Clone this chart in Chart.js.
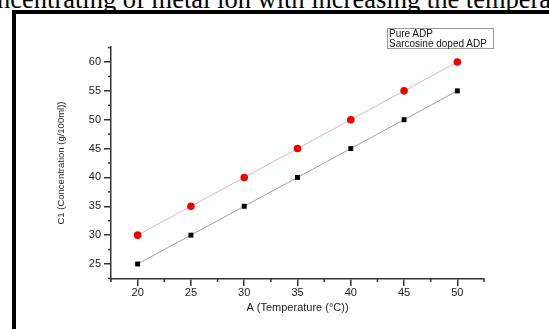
<!DOCTYPE html>
<html>
<head>
<meta charset="utf-8">
<script src="https://cdn.jsdelivr.net/npm/chart.js@4.4.1/dist/chart.umd.min.js"></script>
<style>
  html, body { margin: 0; padding: 0; background: #fff; }
  body { width: 549px; height: 329px; position: relative; overflow: hidden; }
  #doctext { position: absolute; left: -28px; top: -14px; white-space: nowrap;
    font: 26.5px/26.5px "Liberation Serif", serif; color: #000; }
  #frame { position: absolute; left: 12px; top: 10px; width: 600px; height: 400px;
    border: 4px solid #000; box-sizing: border-box; }
  #wrap { position: absolute; left: 0; top: 0; width: 549px; height: 329px; }
  #legend { position: absolute; left: 387px; top: 28px; width: 104px; height: 19px;
    border: 1px solid #999; font: 10px/10px "Liberation Sans", Arial, sans-serif;
    color: #111; padding: 0 0 0 1px; }
</style>
</head>
<body>
<div id="doctext">concentrating of metal ion with increasing the temperature</div>
<div id="frame"></div>
<div id="wrap"><canvas id="c" width="549" height="329"></canvas></div>
<div id="legend"></div>
<script>
const temps = [20, 25, 30, 35, 40, 45, 50];
const pureADP = [25, 30, 35, 40, 45, 50, 55];
const sarcosineADP = [30, 35, 40, 45, 50, 55, 60];
const seriesNames = ['Pure ADP', 'Sarcosine doped ADP'];

const xTicks = [20, 25, 30, 35, 40, 45, 50];
const xMinor = [17.5, 22.5, 27.5, 32.5, 37.5, 42.5, 47.5, 52.5];
const yTicks = [25, 30, 35, 40, 45, 50, 55, 60];
const yMinor = [22.5, 27.5, 32.5, 37.5, 42.5, 47.5, 52.5, 57.5, 62.5];

const axisColor = '#333';
const tickFont = { family: 'Liberation Sans', size: 11 };

document.getElementById('legend').innerHTML = seriesNames.map(n => '<div>' + n + '</div>').join('');

const minorTicks = {
    id: 'minorTicks',
    afterDraw(chart) {
        const ctx = chart.ctx;
        const xs = chart.scales.x, ys = chart.scales.y;
        ctx.save();
        ctx.strokeStyle = axisColor;
        ctx.lineWidth = 1.5;
        xMinor.forEach(v => {
            const px = xs.getPixelForValue(v);
            ctx.beginPath();
            ctx.moveTo(px, xs.top);
            ctx.lineTo(px, xs.top + 3);
            ctx.stroke();
        });
        yMinor.forEach(v => {
            const py = ys.getPixelForValue(v);
            ctx.beginPath();
            ctx.moveTo(ys.right, py);
            ctx.lineTo(ys.right - 3, py);
            ctx.stroke();
        });
        ctx.restore();
    }
};

new Chart(document.getElementById('c'), {
    type: 'line',
    data: {
        datasets: [
            {
                label: seriesNames[0],
                data: temps.map((t, i) => ({ x: t, y: pureADP[i] })),
                borderColor: '#a0a0a0',
                borderWidth: 1,
                pointStyle: 'rect',
                pointRadius: 3.5,
                backgroundColor: '#000',
                pointBorderColor: '#000',
                pointBorderWidth: 0
            },
            {
                label: seriesNames[1],
                data: temps.map((t, i) => ({ x: t, y: sarcosineADP[i] })),
                borderColor: '#e6b3b3',
                borderWidth: 1,
                pointStyle: 'circle',
                pointRadius: 3.8,
                backgroundColor: '#ee0000',
                pointBorderColor: '#ee0000',
                pointBorderWidth: 0
            }
        ]
    },
    options: {
        responsive: false,
        animation: false,
        layout: { padding: { left: 0, top: 47, right: 65, bottom: 0 } },
        plugins: { legend: { display: false }, tooltip: { enabled: false } },
        scales: {
            x: {
                type: 'linear',
                min: 17.5,
                max: 52.5,
                afterBuildTicks: axis => { axis.ticks = xTicks.map(v => ({ value: v })); },
                afterFit: axis => { axis.height = 50; },
                border: { color: axisColor, width: 1.5 },
                grid: { drawOnChartArea: false, drawTicks: true, tickLength: 7, color: axisColor, lineWidth: 1.5 },
                ticks: { color: '#222', font: tickFont, padding: 0, maxRotation: 0 },
                title: { display: true, text: 'A (Temperature (°C))', color: '#222',
                    font: { family: 'Liberation Sans', size: 11 }, padding: { top: 0, bottom: 14 } }
            },
            y: {
                min: 22.4,
                max: 62.6,
                afterBuildTicks: axis => { axis.ticks = yTicks.map(v => ({ value: v })); },
                afterFit: axis => { axis.width = 111; },
                border: { color: axisColor, width: 1.5 },
                grid: { drawOnChartArea: false, drawTicks: true, tickLength: 7, color: axisColor, lineWidth: 1.5 },
                ticks: { color: '#222', font: tickFont, padding: 3 },
                title: { display: true, text: 'C1 (Concentration (g/100ml))', color: '#222',
                    font: { family: 'Liberation Sans', size: 9.5 }, padding: { top: 56, bottom: 0 } }
            }
        }
    },
    plugins: [minorTicks]
});
</script>
</body>
</html>
